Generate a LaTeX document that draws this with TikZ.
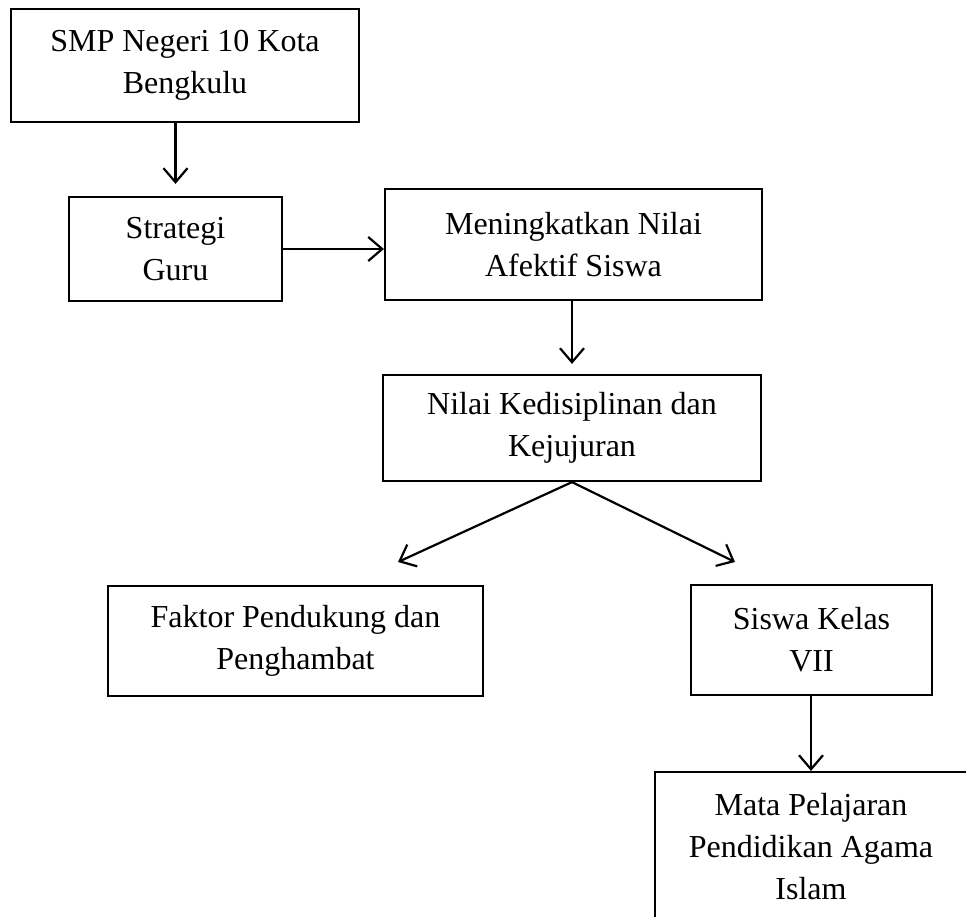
\documentclass[tikz,border=0pt]{standalone}
\usepackage{fontspec}
\setmainfont{Liberation Serif}
\usetikzlibrary{arrows.meta}
\begin{document}
\begin{tikzpicture}[x=1pt,y=-1pt,
  box/.style={draw,line width=2.2pt,rectangle,inner sep=0pt,align=center,
    font=\fontsize{32}{42}\selectfont},
  arr/.style={line width=2.2pt,-{Straight Barb[length=14pt,width=24pt,line width=2.2pt]}}]
\useasboundingbox (0,0) rectangle (966,917);
\clip (0,0) rectangle (966,917);
\node[box,minimum width=348pt,minimum height=113pt] (b1) at (185,65.5) {SMP Negeri 10 Kota\\Bengkulu};
\node[box,minimum width=213pt,minimum height=104pt] (b2) at (175.5,249) {Strategi\\Guru};
\node[box,minimum width=377pt,minimum height=111pt] (b3) at (573.5,244.5) {Meningkatkan Nilai\\Afektif Siswa};
\node[box,minimum width=378pt,minimum height=106pt] (b4) at (572,428) {Nilai Kedisiplinan dan\\Kejujuran};
\node[box,minimum width=375pt,minimum height=110pt] (b5) at (295.5,641) {Faktor Pendukung dan\\Penghambat};
\node[box,minimum width=241pt,minimum height=110pt] (b6) at (811.5,640) {Siswa Kelas\\VII};
\node[box,minimum width=312pt,minimum height=150pt] (b7) at (811,847) {Mata Pelajaran\\Pendidikan Agama\\Islam};
\coordinate (e1) at (398,562);
\coordinate (e2) at (735,562);
\draw[arr,shorten >=12pt] (b2.north |- b1.south) -- (b2.north);
\draw[arr] (b2.east) -- (b2.east -| b3.west);
\draw[arr,shorten >=10pt] (b4.north |- b3.south) -- (b4.north);
\draw[arr] (b4.south) -- (e1);
\draw[arr] (b4.south) -- (e2);
\draw[arr] (b7.north |- b6.south) -- (b7.north);
\end{tikzpicture}
\end{document}
